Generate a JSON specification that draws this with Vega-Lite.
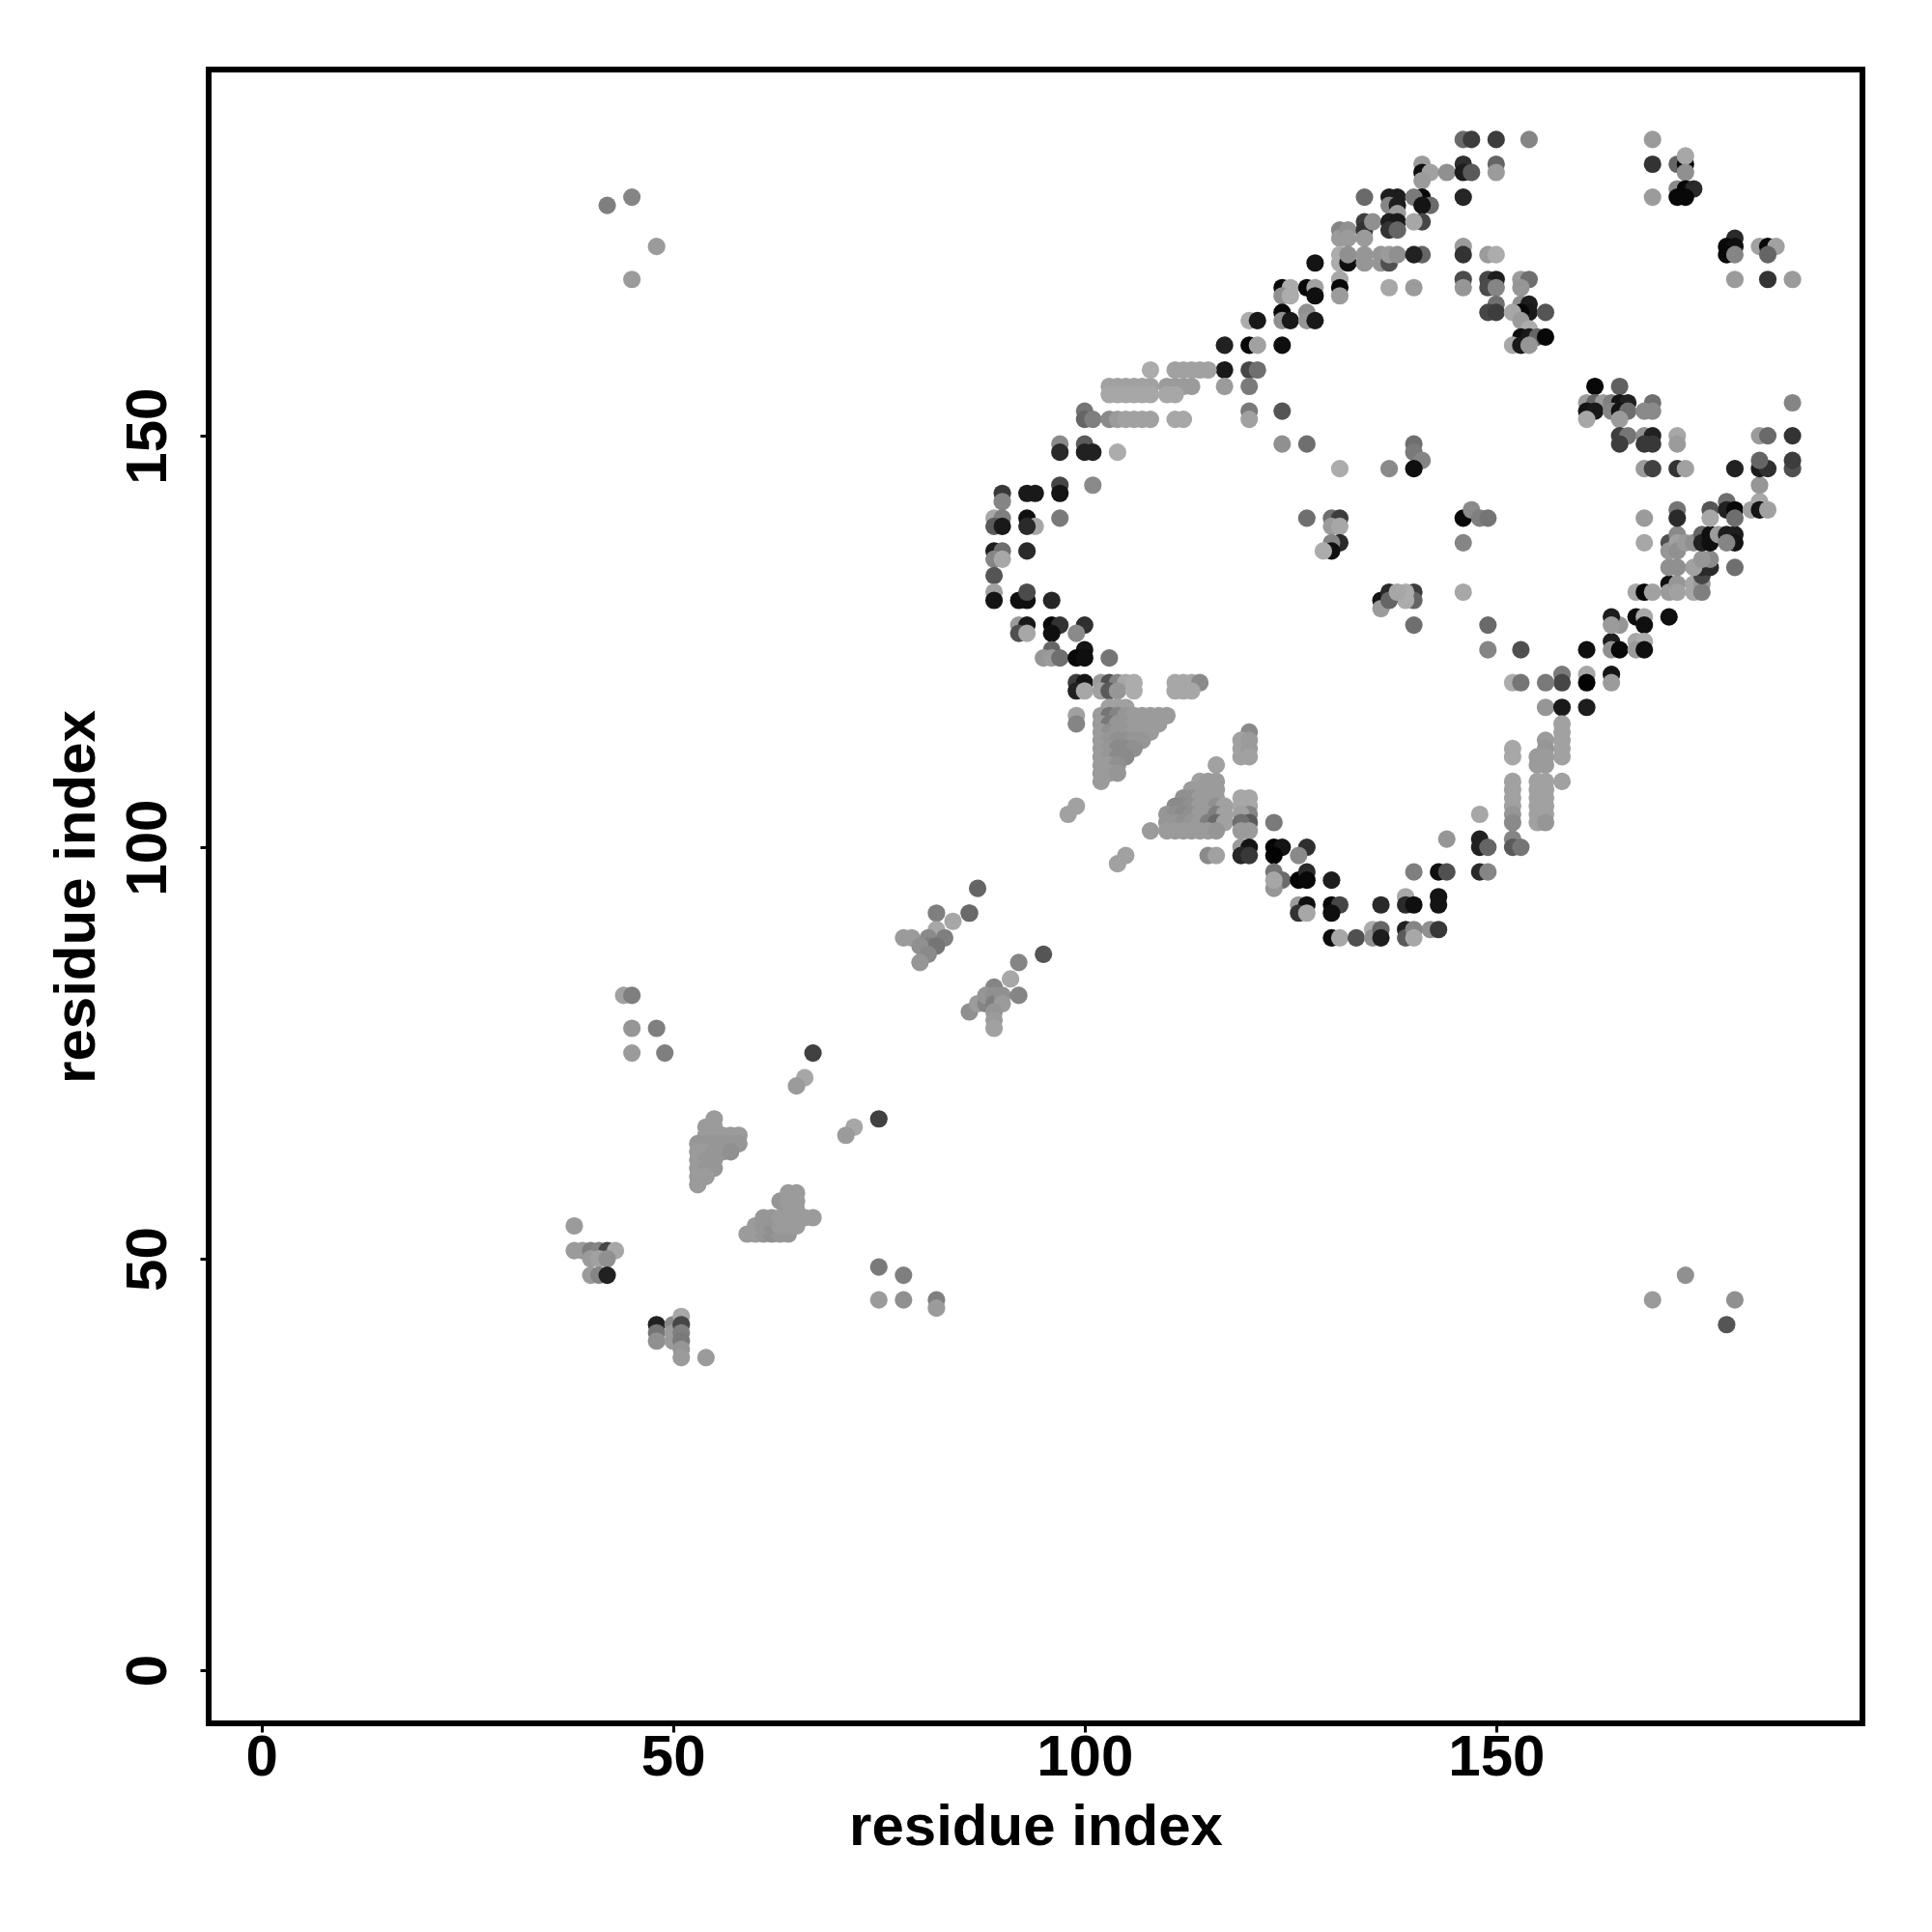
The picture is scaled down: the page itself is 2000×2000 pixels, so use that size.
{"$schema":"https://vega.github.io/schema/vega-lite/v6.json","width":1712,"height":1712,"autosize":{"type":"none"},"padding":{"left":216,"top":72,"right":72,"bottom":216},"background":"white","view":{"stroke":"black","strokeWidth":6,"fill":"white"},
"data":{"values":[
{"i":134,"j":179,"s":105},{"i":137,"j":179,"s":25},{"i":138,"j":179,"s":25},{"i":137,"j":178,"s":130},{"i":138,"j":178,"s":25},{"i":138,"j":177,"s":150},{"i":131,"j":175,"s":130},{"i":131,"j":174,"s":150},{"i":132,"j":175,"s":140},{"i":132,"j":174,"s":150},{"i":134,"j":176,"s":60},{"i":134,"j":175,"s":50},{"i":135,"j":176,"s":140},{"i":134,"j":174,"s":150},{"i":137,"j":176,"s":25},{"i":138,"j":176,"s":20},{"i":137,"j":175,"s":50},{"i":138,"j":175,"s":100},
{"i":131,"j":172,"s":165},{"i":131,"j":171,"s":165},{"i":132,"j":171,"s":10},{"i":132,"j":172,"s":140},{"i":134,"j":172,"s":145},{"i":134,"j":171,"s":145},{"i":136,"j":172,"s":145},{"i":136,"j":171,"s":145},{"i":137,"j":171,"s":80},{"i":137,"j":172,"s":150},{"i":138,"j":172,"s":140},{"i":128,"j":171,"s":15},
{"i":124,"j":168,"s":5},{"i":125,"j":168,"s":165},{"i":124,"j":167,"s":140},{"i":125,"j":167,"s":165},{"i":127,"j":168,"s":5},{"i":128,"j":168,"s":155},{"i":128,"j":167,"s":10},{"i":131,"j":169,"s":160},{"i":131,"j":168,"s":5},{"i":131,"j":167,"s":150},{"i":137,"j":168,"s":160},
{"i":124,"j":165,"s":5},{"i":124,"j":164,"s":140},{"i":125,"j":164,"s":20},{"i":127,"j":165,"s":140},{"i":127,"j":164,"s":145},{"i":128,"j":164,"s":20},{"i":120,"j":164,"s":165},{"i":121,"j":164,"s":20},
{"i":117,"j":161,"s":30},{"i":120,"j":161,"s":5},{"i":121,"j":161,"s":155},{"i":124,"j":161,"s":10},
{"i":117,"j":158,"s":20},{"i":120,"j":158,"s":70},{"i":121,"j":158,"s":110},{"i":108,"j":158,"s":165},{"i":111,"j":158,"s":155},{"i":112,"j":158,"s":155},{"i":113,"j":158,"s":155},{"i":114,"j":158,"s":155},{"i":115,"j":158,"s":155},
{"i":117,"j":156,"s":150},{"i":120,"j":156,"s":120},
{"i":103,"j":156,"s":155},{"i":104,"j":156,"s":155},{"i":105,"j":156,"s":155},{"i":106,"j":156,"s":155},{"i":107,"j":156,"s":155},{"i":108,"j":156,"s":155},{"i":110,"j":156,"s":150},{"i":111,"j":156,"s":150},{"i":112,"j":156,"s":150},{"i":113,"j":156,"s":150},
{"i":103,"j":155,"s":160},{"i":104,"j":155,"s":160},{"i":105,"j":155,"s":160},{"i":106,"j":155,"s":160},{"i":107,"j":155,"s":160},{"i":108,"j":155,"s":160},{"i":110,"j":155,"s":160},{"i":111,"j":155,"s":160},
{"i":100,"j":153,"s":115},{"i":120,"j":153,"s":120},{"i":124,"j":153,"s":85},{"i":120,"j":152,"s":155},{"i":100,"j":152,"s":100},{"i":101,"j":152,"s":125},{"i":103,"j":152,"s":135},{"i":104,"j":152,"s":150},{"i":105,"j":152,"s":155},{"i":106,"j":152,"s":155},{"i":107,"j":152,"s":155},{"i":108,"j":152,"s":155},{"i":111,"j":152,"s":160},{"i":112,"j":152,"s":160},
{"i":97,"j":149,"s":135},{"i":100,"j":149,"s":90},{"i":124,"j":149,"s":140},{"i":127,"j":149,"s":110},{"i":97,"j":148,"s":40},{"i":100,"j":148,"s":30},{"i":101,"j":148,"s":30},{"i":104,"j":148,"s":165},{"i":131,"j":146,"s":165},{"i":137,"j":146,"s":135},
{"i":101,"j":144,"s":135},{"i":97,"j":144,"s":70},{"i":97,"j":143,"s":15},{"i":90,"j":143,"s":55},{"i":93,"j":143,"s":20},{"i":94,"j":143,"s":20},{"i":90,"j":142,"s":130},
{"i":89,"j":140,"s":160},{"i":90,"j":140,"s":125},{"i":93,"j":140,"s":10},{"i":97,"j":140,"s":120},{"i":127,"j":140,"s":110},{"i":130,"j":140,"s":110},{"i":131,"j":140,"s":60},{"i":94,"j":139,"s":160},{"i":89,"j":139,"s":90},{"i":90,"j":139,"s":20},{"i":93,"j":139,"s":40},{"i":130,"j":139,"s":150},{"i":131,"j":139,"s":160},
{"i":89,"j":136,"s":25},{"i":90,"j":136,"s":110},{"i":89,"j":135,"s":130},{"i":90,"j":135,"s":160},{"i":93,"j":136,"s":40},{"i":131,"j":137,"s":40},{"i":130,"j":137,"s":130},{"i":130,"j":136,"s":10},{"i":129,"j":136,"s":165},
{"i":89,"j":133,"s":85},{"i":89,"j":131,"s":155},{"i":89,"j":130,"s":15},{"i":92,"j":130,"s":10},{"i":93,"j":130,"s":10},{"i":93,"j":131,"s":75},{"i":96,"j":130,"s":35},
{"i":92,"j":127,"s":150},{"i":93,"j":127,"s":20},{"i":96,"j":127,"s":5},{"i":97,"j":127,"s":50},{"i":100,"j":127,"s":45},{"i":92,"j":126,"s":80},{"i":93,"j":126,"s":160},{"i":96,"j":126,"s":10},{"i":99,"j":126,"s":135},
{"i":96,"j":124,"s":100},{"i":100,"j":124,"s":15},{"i":95,"j":123,"s":145},{"i":96,"j":123,"s":150},{"i":97,"j":123,"s":110},{"i":99,"j":123,"s":5},{"i":100,"j":123,"s":10},{"i":103,"j":123,"s":115},
{"i":99,"j":120,"s":60},{"i":100,"j":120,"s":15},{"i":102,"j":120,"s":150},{"i":103,"j":120,"s":80},{"i":104,"j":120,"s":130},{"i":105,"j":120,"s":160},{"i":106,"j":120,"s":165},{"i":99,"j":119,"s":30},{"i":100,"j":119,"s":160},{"i":102,"j":119,"s":155},{"i":103,"j":119,"s":90},{"i":104,"j":119,"s":145},{"i":106,"j":119,"s":165},{"i":111,"j":120,"s":160},{"i":112,"j":120,"s":160},{"i":113,"j":120,"s":160},{"i":114,"j":120,"s":135},{"i":111,"j":119,"s":160},{"i":112,"j":119,"s":160},{"i":113,"j":119,"s":160},
{"i":99,"j":116,"s":155},{"i":99,"j":115,"s":130},{"i":110,"j":116,"s":150},
{"i":103,"j":117,"s":155},{"i":104,"j":117,"s":155},{"i":105,"j":117,"s":155},
{"i":102,"j":116,"s":150},{"i":103,"j":116,"s":115},{"i":104,"j":116,"s":130},{"i":105,"j":116,"s":145},{"i":106,"j":116,"s":150},{"i":107,"j":116,"s":150},{"i":108,"j":116,"s":150},{"i":109,"j":116,"s":150},
{"i":102,"j":115,"s":150},{"i":103,"j":115,"s":120},{"i":104,"j":115,"s":145},{"i":105,"j":115,"s":145},{"i":106,"j":115,"s":150},{"i":107,"j":115,"s":150},{"i":108,"j":115,"s":150},{"i":109,"j":115,"s":150},
{"i":102,"j":114,"s":150},{"i":103,"j":114,"s":140},{"i":104,"j":114,"s":145},{"i":105,"j":114,"s":145},{"i":106,"j":114,"s":150},{"i":107,"j":114,"s":150},{"i":108,"j":114,"s":150},
{"i":102,"j":113,"s":150},{"i":103,"j":113,"s":145},{"i":104,"j":113,"s":140},{"i":105,"j":113,"s":140},{"i":106,"j":113,"s":145},{"i":107,"j":113,"s":145},
{"i":102,"j":112,"s":150},{"i":103,"j":112,"s":145},{"i":104,"j":112,"s":135},{"i":105,"j":112,"s":135},{"i":106,"j":112,"s":140},
{"i":102,"j":111,"s":150},{"i":103,"j":111,"s":145},{"i":104,"j":111,"s":135},{"i":105,"j":111,"s":135},
{"i":102,"j":110,"s":150},{"i":103,"j":110,"s":150},{"i":104,"j":110,"s":140},{"i":102,"j":109,"s":150},{"i":103,"j":109,"s":150},{"i":104,"j":109,"s":145},{"i":102,"j":108,"s":150},
{"i":120,"j":114,"s":135},{"i":119,"j":113,"s":155},{"i":119,"j":112,"s":155},{"i":119,"j":111,"s":155},{"i":120,"j":113,"s":150},{"i":120,"j":112,"s":150},{"i":120,"j":111,"s":155},
{"i":116,"j":110,"s":155},
{"i":114,"j":108,"s":155},{"i":115,"j":108,"s":150},{"i":116,"j":108,"s":150},
{"i":113,"j":107,"s":150},{"i":114,"j":107,"s":150},{"i":115,"j":107,"s":150},{"i":116,"j":107,"s":150},
{"i":112,"j":106,"s":140},{"i":113,"j":106,"s":140},{"i":114,"j":106,"s":150},{"i":115,"j":106,"s":150},{"i":116,"j":106,"s":150},
{"i":111,"j":105,"s":135},{"i":112,"j":105,"s":135},{"i":113,"j":105,"s":140},{"i":114,"j":105,"s":150},{"i":115,"j":105,"s":150},{"i":116,"j":105,"s":140},{"i":117,"j":105,"s":155},
{"i":110,"j":104,"s":145},{"i":111,"j":104,"s":140},{"i":112,"j":104,"s":135},{"i":113,"j":104,"s":140},{"i":114,"j":104,"s":150},{"i":115,"j":104,"s":150},{"i":116,"j":104,"s":125},{"i":117,"j":104,"s":155},
{"i":110,"j":103,"s":145},{"i":111,"j":103,"s":145},{"i":112,"j":103,"s":140},{"i":113,"j":103,"s":145},{"i":114,"j":103,"s":150},{"i":115,"j":103,"s":125},{"i":116,"j":103,"s":105},{"i":117,"j":103,"s":155},
{"i":108,"j":102,"s":150},{"i":110,"j":102,"s":150},{"i":111,"j":102,"s":150},{"i":112,"j":102,"s":150},{"i":113,"j":102,"s":150},{"i":114,"j":102,"s":150},{"i":115,"j":102,"s":150},{"i":116,"j":102,"s":145},
{"i":119,"j":106,"s":160},{"i":120,"j":106,"s":160},{"i":119,"j":105,"s":160},{"i":120,"j":105,"s":160},{"i":120,"j":104,"s":130},{"i":119,"j":104,"s":155},{"i":120,"j":103,"s":90},{"i":119,"j":103,"s":110},{"i":120,"j":102,"s":150},{"i":119,"j":102,"s":150},{"i":123,"j":103,"s":120},
{"i":119,"j":100,"s":150},{"i":120,"j":100,"s":15},{"i":119,"j":99,"s":35},{"i":120,"j":99,"s":55},{"i":123,"j":100,"s":2},{"i":124,"j":100,"s":15},{"i":123,"j":99,"s":2},{"i":127,"j":100,"s":45},{"i":126,"j":99,"s":135},
{"i":115,"j":99,"s":135},{"i":116,"j":99,"s":155},{"i":105,"j":99,"s":155},{"i":104,"j":98,"s":155},{"i":99,"j":105,"s":155},{"i":98,"j":104,"s":155},
{"i":123,"j":97,"s":115},{"i":124,"j":96,"s":105},{"i":123,"j":95,"s":145},{"i":123,"j":96,"s":160},{"i":126,"j":96,"s":2},{"i":127,"j":97,"s":40},{"i":127,"j":96,"s":5},{"i":130,"j":96,"s":25},{"i":87,"j":95,"s":100},{"i":86,"j":92,"s":125},{"i":95,"j":87,"s":85},{"i":92,"j":86,"s":130},{"i":91,"j":84,"s":160},{"i":89,"j":83,"s":130},
{"i":126,"j":93,"s":150},{"i":127,"j":93,"s":10},{"i":130,"j":93,"s":5},{"i":131,"j":93,"s":70},{"i":136,"j":93,"s":40},{"i":126,"j":92,"s":50},{"i":127,"j":92,"s":160},{"i":130,"j":92,"s":10},
{"i":130,"j":89,"s":8},{"i":131,"j":89,"s":160},{"i":133,"j":89,"s":80},{"i":135,"j":90,"s":165},{"i":135,"j":89,"s":140},{"i":136,"j":90,"s":100},{"i":136,"j":89,"s":25},
{"i":139,"j":94,"s":160},{"i":139,"j":93,"s":40},{"i":140,"j":93,"s":10},{"i":143,"j":94,"s":15},{"i":143,"j":93,"s":15},{"i":140,"j":97,"s":125},{"i":143,"j":97,"s":10},{"i":144,"j":97,"s":80},{"i":148,"j":97,"s":40},{"i":149,"j":97,"s":130},{"i":144,"j":101,"s":145},{"i":148,"j":101,"s":30},{"i":148,"j":100,"s":30},{"i":149,"j":100,"s":100},{"i":148,"j":104,"s":160},{"i":152,"j":101,"s":130},{"i":152,"j":100,"s":90},{"i":153,"j":100,"s":115},
{"i":139,"j":90,"s":30},{"i":139,"j":89,"s":90},{"i":140,"j":90,"s":130},{"i":140,"j":89,"s":160},{"i":142,"j":90,"s":140},{"i":143,"j":90,"s":55},
{"i":140,"j":127,"s":110},{"i":140,"j":131,"s":60},{"i":140,"j":130,"s":100},{"i":139,"j":131,"s":165},{"i":139,"j":130,"s":165},{"i":146,"j":131,"s":160},{"i":149,"j":127,"s":105},{"i":149,"j":124,"s":130},{"i":153,"j":124,"s":80},{"i":161,"j":124,"s":10},{"i":164,"j":125,"s":25},{"i":164,"j":124,"s":140},{"i":165,"j":127,"s":145},{"i":164,"j":128,"s":25},{"i":164,"j":127,"s":150},{"i":165,"j":124,"s":5},{"i":167,"j":128,"s":8},{"i":168,"j":128,"s":160},{"i":168,"j":127,"s":10},{"i":167,"j":125,"s":160},{"i":168,"j":125,"s":165},{"i":167,"j":124,"s":150},{"i":168,"j":124,"s":10},{"i":171,"j":128,"s":10},
{"i":167,"j":131,"s":160},{"i":168,"j":131,"s":5},{"i":169,"j":131,"s":155},{"i":171,"j":132,"s":10},{"i":171,"j":131,"s":150},{"i":172,"j":132,"s":145},{"i":172,"j":131,"s":155},{"i":174,"j":132,"s":160},{"i":174,"j":131,"s":160},{"i":175,"j":132,"s":150},{"i":175,"j":131,"s":125},{"i":175,"j":133,"s":70},{"i":175,"j":134,"s":40},{"i":176,"j":134,"s":40},{"i":174,"j":134,"s":155},{"i":171,"j":134,"s":140},{"i":172,"j":134,"s":140},{"i":176,"j":135,"s":135},{"i":175,"j":135,"s":145},{"i":171,"j":137,"s":80},{"i":171,"j":136,"s":145},{"i":172,"j":138,"s":135},{"i":172,"j":137,"s":155},{"i":172,"j":136,"s":140},{"i":173,"j":137,"s":150},{"i":174,"j":137,"s":140},{"i":175,"j":138,"s":100},{"i":175,"j":137,"s":30},{"i":176,"j":138,"s":10},{"i":176,"j":137,"s":10},{"i":177,"j":138,"s":150},{"i":178,"j":138,"s":25},{"i":179,"j":138,"s":25},{"i":179,"j":137,"s":15},{"i":178,"j":137,"s":130},{"i":179,"j":134,"s":110},
{"i":168,"j":140,"s":150},{"i":168,"j":137,"s":160},{"i":172,"j":141,"s":115},{"i":172,"j":140,"s":40},{"i":176,"j":141,"s":85},{"i":176,"j":140,"s":160},{"i":178,"j":142,"s":110},{"i":178,"j":141,"s":30},{"i":179,"j":141,"s":5},{"i":179,"j":140,"s":110},{"i":181,"j":141,"s":155},{"i":182,"j":142,"s":160},{"i":182,"j":141,"s":15},{"i":183,"j":141,"s":155},{"i":182,"j":144,"s":145},
{"i":179,"j":146,"s":30},{"i":182,"j":146,"s":20},{"i":183,"j":146,"s":45},{"i":186,"j":146,"s":80},{"i":168,"j":146,"s":150},{"i":169,"j":146,"s":65},{"i":172,"j":146,"s":50},{"i":173,"j":146,"s":155},{"i":146,"j":140,"s":5},{"i":147,"j":141,"s":135},{"i":148,"j":140,"s":125},{"i":149,"j":140,"s":115},{"i":146,"j":137,"s":130},
{"i":158,"j":121,"s":120},{"i":158,"j":120,"s":70},{"i":161,"j":121,"s":160},{"i":161,"j":120,"s":2},{"i":164,"j":121,"s":15},{"i":164,"j":120,"s":150},{"i":152,"j":120,"s":165},{"i":153,"j":120,"s":115},{"i":156,"j":120,"s":120},{"i":156,"j":117,"s":145},{"i":158,"j":117,"s":20},{"i":161,"j":117,"s":25},
{"i":158,"j":115,"s":155},{"i":158,"j":114,"s":155},{"i":158,"j":113,"s":155},{"i":158,"j":112,"s":155},{"i":158,"j":111,"s":155},{"i":158,"j":108,"s":155},
{"i":156,"j":113,"s":150},{"i":156,"j":112,"s":145},{"i":155,"j":111,"s":150},{"i":156,"j":111,"s":150},{"i":155,"j":110,"s":150},{"i":156,"j":110,"s":150},
{"i":155,"j":108,"s":155},{"i":155,"j":107,"s":155},{"i":155,"j":106,"s":155},{"i":155,"j":105,"s":155},{"i":155,"j":104,"s":155},{"i":155,"j":103,"s":155},{"i":156,"j":108,"s":155},{"i":156,"j":107,"s":155},{"i":156,"j":106,"s":155},{"i":156,"j":105,"s":155},{"i":156,"j":104,"s":155},{"i":156,"j":103,"s":145},
{"i":152,"j":112,"s":160},{"i":152,"j":111,"s":160},{"i":152,"j":108,"s":155},{"i":152,"j":107,"s":155},{"i":152,"j":106,"s":155},{"i":152,"j":105,"s":155},{"i":152,"j":104,"s":145},{"i":152,"j":103,"s":135},
{"i":146,"j":186,"s":105},{"i":147,"j":186,"s":60},{"i":150,"j":186,"s":60},{"i":154,"j":186,"s":130},{"i":169,"j":186,"s":150},{"i":146,"j":183,"s":45},{"i":150,"j":183,"s":100},{"i":141,"j":183,"s":150},{"i":169,"j":183,"s":50},{"i":172,"j":183,"s":100},{"i":173,"j":183,"s":5},{"i":173,"j":184,"s":160},{"i":141,"j":182,"s":10},{"i":142,"j":182,"s":155},{"i":144,"j":182,"s":140},{"i":146,"j":182,"s":25},{"i":147,"j":182,"s":90},{"i":150,"j":182,"s":150},{"i":173,"j":182,"s":140},{"i":141,"j":181,"s":150},
{"i":146,"j":179,"s":35},{"i":141,"j":179,"s":5},{"i":140,"j":179,"s":120},{"i":169,"j":179,"s":150},{"i":172,"j":180,"s":135},{"i":173,"j":180,"s":5},{"i":174,"j":180,"s":40},{"i":172,"j":179,"s":5},{"i":173,"j":179,"s":5},{"i":142,"j":178,"s":105},{"i":141,"j":178,"s":15},{"i":141,"j":176,"s":70},{"i":140,"j":176,"s":160},
{"i":146,"j":173,"s":150},{"i":146,"j":172,"s":50},{"i":149,"j":172,"s":150},{"i":150,"j":172,"s":165},{"i":141,"j":172,"s":100},{"i":140,"j":172,"s":30},
{"i":146,"j":169,"s":75},{"i":149,"j":169,"s":70},{"i":150,"j":169,"s":25},{"i":153,"j":169,"s":150},{"i":154,"j":169,"s":110},{"i":146,"j":168,"s":145},{"i":149,"j":168,"s":75},{"i":150,"j":168,"s":130},{"i":153,"j":168,"s":145},{"i":140,"j":168,"s":150},
{"i":150,"j":166,"s":110},{"i":153,"j":166,"s":140},{"i":154,"j":166,"s":25},{"i":154,"j":165,"s":20},{"i":153,"j":165,"s":5},{"i":149,"j":165,"s":70},{"i":150,"j":165,"s":60},{"i":152,"j":165,"s":160},{"i":156,"j":165,"s":85},{"i":153,"j":164,"s":150},
{"i":154,"j":163,"s":165},{"i":153,"j":162,"s":10},{"i":154,"j":162,"s":20},{"i":155,"j":162,"s":100},{"i":156,"j":162,"s":5},{"i":152,"j":161,"s":160},{"i":153,"j":161,"s":20},{"i":154,"j":161,"s":145},
{"i":162,"j":156,"s":5},{"i":165,"j":156,"s":95},{"i":161,"j":154,"s":150},{"i":162,"j":154,"s":100},{"i":163,"j":154,"s":150},{"i":164,"j":154,"s":125},{"i":165,"j":154,"s":15},{"i":166,"j":154,"s":30},{"i":169,"j":154,"s":110},{"i":161,"j":153,"s":15},{"i":162,"j":153,"s":20},{"i":164,"j":153,"s":130},{"i":165,"j":153,"s":15},{"i":166,"j":153,"s":110},{"i":168,"j":153,"s":135},{"i":169,"j":153,"s":135},{"i":161,"j":152,"s":160},{"i":165,"j":152,"s":150},
{"i":165,"j":150,"s":60},{"i":166,"j":150,"s":115},{"i":168,"j":150,"s":140},{"i":169,"j":150,"s":30},{"i":172,"j":150,"s":160},{"i":165,"j":149,"s":60},{"i":168,"j":149,"s":55},{"i":169,"j":149,"s":55},{"i":172,"j":149,"s":150},
{"i":186,"j":154,"s":130},{"i":182,"j":150,"s":150},{"i":183,"j":150,"s":105},{"i":186,"j":150,"s":50},{"i":182,"j":147,"s":100},{"i":186,"j":147,"s":60},
{"i":179,"j":174,"s":40},{"i":178,"j":173,"s":5},{"i":179,"j":173,"s":10},{"i":178,"j":172,"s":5},{"i":179,"j":172,"s":130},{"i":182,"j":173,"s":155},{"i":183,"j":173,"s":5},{"i":184,"j":173,"s":155},{"i":183,"j":172,"s":100},{"i":179,"j":169,"s":150},{"i":183,"j":169,"s":50},{"i":186,"j":169,"s":150},
{"i":140,"j":149,"s":110},{"i":140,"j":148,"s":120},{"i":141,"j":147,"s":130},{"i":140,"j":146,"s":10},
{"i":136,"j":130,"s":15},{"i":137,"j":131,"s":40},{"i":136,"j":129,"s":150},{"i":137,"j":130,"s":100},{"i":138,"j":131,"s":160},
{"i":55,"j":67,"s":150},{"i":54,"j":66,"s":150},{"i":55,"j":66,"s":150},{"i":54,"j":65,"s":150},{"i":55,"j":65,"s":150},{"i":56,"j":65,"s":150},{"i":57,"j":65,"s":150},{"i":58,"j":65,"s":150},{"i":53,"j":64,"s":145},{"i":54,"j":64,"s":145},{"i":55,"j":64,"s":145},{"i":56,"j":64,"s":145},{"i":57,"j":64,"s":145},{"i":58,"j":64,"s":145},{"i":53,"j":63,"s":150},{"i":54,"j":63,"s":150},{"i":55,"j":63,"s":145},{"i":56,"j":63,"s":145},{"i":57,"j":63,"s":140},{"i":53,"j":62,"s":150},{"i":54,"j":62,"s":145},{"i":55,"j":62,"s":145},{"i":53,"j":61,"s":150},{"i":54,"j":61,"s":145},{"i":55,"j":61,"s":145},{"i":53,"j":60,"s":150},{"i":54,"j":60,"s":150},{"i":53,"j":59,"s":150},
{"i":59,"j":53,"s":150},{"i":60,"j":53,"s":150},{"i":61,"j":53,"s":145},{"i":62,"j":53,"s":140},{"i":63,"j":53,"s":145},{"i":64,"j":53,"s":145},{"i":60,"j":54,"s":150},{"i":61,"j":54,"s":145},{"i":62,"j":54,"s":140},{"i":63,"j":54,"s":150},{"i":64,"j":54,"s":150},{"i":65,"j":54,"s":150},{"i":61,"j":55,"s":145},{"i":62,"j":55,"s":145},{"i":63,"j":55,"s":150},{"i":64,"j":55,"s":150},{"i":65,"j":55,"s":150},{"i":66,"j":55,"s":150},{"i":67,"j":55,"s":150},{"i":64,"j":56,"s":150},{"i":65,"j":56,"s":150},{"i":63,"j":57,"s":145},{"i":64,"j":57,"s":150},{"i":65,"j":57,"s":150},{"i":64,"j":58,"s":150},{"i":65,"j":58,"s":150},
{"i":38,"j":54,"s":150},{"i":38,"j":51,"s":150},{"i":39,"j":51,"s":150},{"i":40,"j":51,"s":125},{"i":41,"j":51,"s":130},{"i":42,"j":51,"s":70},{"i":43,"j":51,"s":160},{"i":40,"j":50,"s":150},{"i":41,"j":50,"s":155},{"i":42,"j":50,"s":140},{"i":40,"j":48,"s":150},{"i":41,"j":48,"s":130},{"i":42,"j":48,"s":30},
{"i":48,"j":42,"s":30},{"i":48,"j":41,"s":115},{"i":48,"j":40,"s":140},{"i":50,"j":42,"s":135},{"i":50,"j":41,"s":150},{"i":50,"j":40,"s":150},{"i":51,"j":43,"s":160},{"i":51,"j":42,"s":70},{"i":51,"j":41,"s":125},{"i":51,"j":40,"s":120},{"i":51,"j":39,"s":145},{"i":51,"j":38,"s":150},{"i":54,"j":38,"s":150},
{"i":44,"j":82,"s":155},{"i":45,"j":82,"s":125},{"i":45,"j":78,"s":145},{"i":48,"j":78,"s":125},{"i":45,"j":75,"s":150},{"i":49,"j":75,"s":125},{"i":67,"j":75,"s":65},{"i":66,"j":72,"s":160},{"i":65,"j":71,"s":150},{"i":75,"j":67,"s":65},{"i":72,"j":66,"s":160},{"i":71,"j":65,"s":150},
{"i":75,"j":49,"s":120},{"i":78,"j":48,"s":125},{"i":75,"j":45,"s":150},{"i":78,"j":45,"s":140},{"i":82,"j":45,"s":125},{"i":82,"j":44,"s":150},
{"i":82,"j":92,"s":125},{"i":84,"j":91,"s":160},{"i":86,"j":92,"s":105},{"i":78,"j":89,"s":150},{"i":79,"j":89,"s":150},{"i":82,"j":90,"s":160},{"i":83,"j":89,"s":125},{"i":81,"j":89,"s":135},{"i":81,"j":88,"s":125},{"i":82,"j":88,"s":115},{"i":80,"j":88,"s":140},{"i":81,"j":87,"s":135},{"i":80,"j":86,"s":145},
{"i":86,"j":80,"s":140},{"i":87,"j":81,"s":150},{"i":88,"j":81,"s":130},{"i":88,"j":82,"s":145},{"i":89,"j":82,"s":140},{"i":89,"j":81,"s":125},{"i":90,"j":82,"s":140},{"i":90,"j":81,"s":150},{"i":89,"j":80,"s":145},{"i":89,"j":79,"s":150},{"i":89,"j":78,"s":155},{"i":92,"j":82,"s":130},
{"i":42,"j":178,"s":125},{"i":45,"j":179,"s":130},{"i":48,"j":173,"s":150},{"i":45,"j":169,"s":150},{"i":169,"j":45,"s":150},{"i":173,"j":48,"s":140},{"i":179,"j":45,"s":140},{"i":178,"j":42,"s":85}
]},
"mark":{"type":"point","filled":true,"shape":"circle","opacity":1,"size":330},
"encoding":{
"x":{"field":"i","type":"quantitative","scale":{"domain":[-6.42,194.5],"nice":false,"zero":false},"axis":{"title":"residue index","values":[0,50,100,150],"grid":false,"domain":false,"ticks":true,"tickSize":9,"tickWidth":3,"tickColor":"black","labelFont":"Liberation Sans","labelFontWeight":"bold","labelFontSize":60,"labelColor":"black","labelPadding":-3,"labelFlush":false,"labelOverlap":false,"titleFont":"Liberation Sans","titleFontWeight":"bold","titleFontSize":60,"titleColor":"black","titlePadding":13}},
"y":{"field":"j","type":"quantitative","scale":{"domain":[-6.45,194.5],"nice":false,"zero":false},"axis":{"title":"residue index","values":[0,50,100,150],"grid":false,"domain":false,"ticks":true,"tickSize":9,"tickWidth":3,"tickColor":"black","labelFont":"Liberation Sans","labelFontWeight":"bold","labelFontSize":60,"labelColor":"black","labelAngle":-90,"labelAlign":"center","labelBaseline":"bottom","labelPadding":23,"labelFlush":false,"labelOverlap":false,"titleFont":"Liberation Sans","titleFontWeight":"bold","titleFontSize":60,"titleColor":"black","titlePadding":13}},
"color":{"field":"s","type":"quantitative","legend":null,"scale":{"domain":[0,170],"range":["#000000","#b2b2b2"]}},
"order":[{"field":"i"},{"field":"j"}]
}}
